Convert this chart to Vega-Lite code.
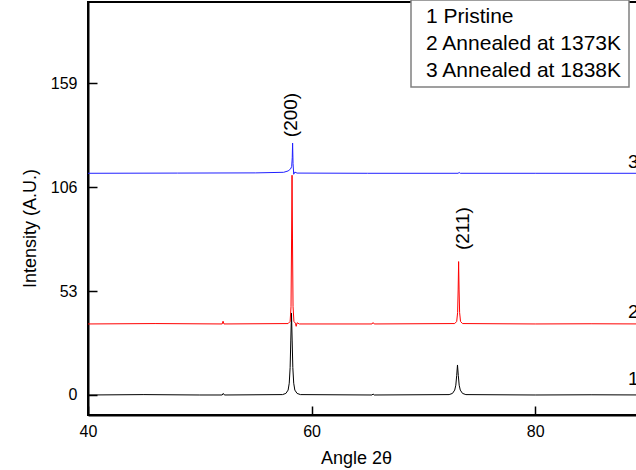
{
  "$schema": "https://vega.github.io/schema/vega-lite/v6.json",
  "autosize": "none",
  "padding": {"left": 88, "top": 2, "right": 0, "bottom": 55},
  "width": 559,
  "height": 413,
  "background": "white",
  "config": {
    "font": "Liberation Sans",
    "view": {"stroke": "black", "strokeWidth": 2},
    "axis": {
      "domainColor": "black", "domainWidth": 2, "tickColor": "black", "tickWidth": 1.5,
      "tickSize": -9, "grid": false, "labelColor": "black", "titleColor": "black",
      "labelFontSize": 16, "titleFontSize": 18, "titleFontWeight": "normal", "labelFont": "Liberation Sans", "titleFont": "Liberation Sans"
    },
    "legend": {
      "orient": "none", "legendX": 323, "legendY": -2, "strokeColor": "#808080", "strokeWidth": 1.5,
      "fillColor": "white", "padding": 6, "labelFontSize": 21, "labelFont": "Liberation Sans", "labelColor": "black",
      "symbolOpacity": 0, "symbolSize": 1, "symbolStrokeWidth": 0, "labelOffset": -12, "rowPadding": 5, "title": null, "labelLimit": 400
    }
  },
  "datasets": {
    "xrd": [
      {"s": "1 Pristine", "x": 40, "y": 0},
      {"s": "1 Pristine", "x": 45, "y": 0.2},
      {"s": "1 Pristine", "x": 50, "y": 0},
      {"s": "1 Pristine", "x": 52.0, "y": 0},
      {"s": "1 Pristine", "x": 52.1, "y": 0.8},
      {"s": "1 Pristine", "x": 52.2, "y": 0},
      {"s": "1 Pristine", "x": 57.4, "y": 0.2},
      {"s": "1 Pristine", "x": 57.7, "y": 0.8},
      {"s": "1 Pristine", "x": 57.9, "y": 2.5},
      {"s": "1 Pristine", "x": 58.0, "y": 6},
      {"s": "1 Pristine", "x": 58.08, "y": 14},
      {"s": "1 Pristine", "x": 58.14, "y": 28},
      {"s": "1 Pristine", "x": 58.2, "y": 41.8},
      {"s": "1 Pristine", "x": 58.26, "y": 28},
      {"s": "1 Pristine", "x": 58.32, "y": 14},
      {"s": "1 Pristine", "x": 58.4, "y": 6},
      {"s": "1 Pristine", "x": 58.5, "y": 2.5},
      {"s": "1 Pristine", "x": 58.7, "y": 0.8},
      {"s": "1 Pristine", "x": 59.0, "y": 0.2},
      {"s": "1 Pristine", "x": 65.4, "y": 0},
      {"s": "1 Pristine", "x": 65.5, "y": 0.5},
      {"s": "1 Pristine", "x": 65.6, "y": 0},
      {"s": "1 Pristine", "x": 72.3, "y": 0.2},
      {"s": "1 Pristine", "x": 72.6, "y": 0.8},
      {"s": "1 Pristine", "x": 72.8, "y": 2.5},
      {"s": "1 Pristine", "x": 72.9, "y": 5},
      {"s": "1 Pristine", "x": 72.98, "y": 10},
      {"s": "1 Pristine", "x": 73.05, "y": 15.3},
      {"s": "1 Pristine", "x": 73.12, "y": 10},
      {"s": "1 Pristine", "x": 73.2, "y": 5},
      {"s": "1 Pristine", "x": 73.3, "y": 2.5},
      {"s": "1 Pristine", "x": 73.5, "y": 0.8},
      {"s": "1 Pristine", "x": 73.8, "y": 0.2},
      {"s": "1 Pristine", "x": 80, "y": 0},
      {"s": "1 Pristine", "x": 85, "y": 0.1},
      {"s": "1 Pristine", "x": 90, "y": 0},
      {"s": "2 Annealed at 1373K", "x": 40, "y": 36.2},
      {"s": "2 Annealed at 1373K", "x": 46, "y": 36.4},
      {"s": "2 Annealed at 1373K", "x": 52.0, "y": 36.2},
      {"s": "2 Annealed at 1373K", "x": 52.08, "y": 37.6},
      {"s": "2 Annealed at 1373K", "x": 52.16, "y": 36.2},
      {"s": "2 Annealed at 1373K", "x": 57.9, "y": 36.4},
      {"s": "2 Annealed at 1373K", "x": 58.08, "y": 37.5},
      {"s": "2 Annealed at 1373K", "x": 58.16, "y": 45},
      {"s": "2 Annealed at 1373K", "x": 58.21, "y": 80},
      {"s": "2 Annealed at 1373K", "x": 58.25, "y": 112},
      {"s": "2 Annealed at 1373K", "x": 58.29, "y": 80},
      {"s": "2 Annealed at 1373K", "x": 58.34, "y": 45},
      {"s": "2 Annealed at 1373K", "x": 58.42, "y": 37.5},
      {"s": "2 Annealed at 1373K", "x": 58.55, "y": 36.6},
      {"s": "2 Annealed at 1373K", "x": 58.62, "y": 35.0},
      {"s": "2 Annealed at 1373K", "x": 58.7, "y": 36.8},
      {"s": "2 Annealed at 1373K", "x": 58.9, "y": 36.2},
      {"s": "2 Annealed at 1373K", "x": 65.4, "y": 36.2},
      {"s": "2 Annealed at 1373K", "x": 65.5, "y": 36.9},
      {"s": "2 Annealed at 1373K", "x": 65.6, "y": 36.2},
      {"s": "2 Annealed at 1373K", "x": 72.8, "y": 36.4},
      {"s": "2 Annealed at 1373K", "x": 72.98, "y": 37.5},
      {"s": "2 Annealed at 1373K", "x": 73.06, "y": 42},
      {"s": "2 Annealed at 1373K", "x": 73.11, "y": 54},
      {"s": "2 Annealed at 1373K", "x": 73.15, "y": 68},
      {"s": "2 Annealed at 1373K", "x": 73.19, "y": 54},
      {"s": "2 Annealed at 1373K", "x": 73.24, "y": 42},
      {"s": "2 Annealed at 1373K", "x": 73.32, "y": 37.5},
      {"s": "2 Annealed at 1373K", "x": 73.5, "y": 36.4},
      {"s": "2 Annealed at 1373K", "x": 80, "y": 36.2},
      {"s": "2 Annealed at 1373K", "x": 85, "y": 36.3},
      {"s": "2 Annealed at 1373K", "x": 90, "y": 36.2},
      {"s": "3 Annealed at 1838K", "x": 40, "y": 113},
      {"s": "3 Annealed at 1838K", "x": 48, "y": 113.1},
      {"s": "3 Annealed at 1838K", "x": 55, "y": 113.2},
      {"s": "3 Annealed at 1838K", "x": 57.5, "y": 113.5},
      {"s": "3 Annealed at 1838K", "x": 57.9, "y": 114.2},
      {"s": "3 Annealed at 1838K", "x": 58.12, "y": 115.2},
      {"s": "3 Annealed at 1838K", "x": 58.22, "y": 116.5},
      {"s": "3 Annealed at 1838K", "x": 58.27, "y": 121},
      {"s": "3 Annealed at 1838K", "x": 58.3, "y": 128.4},
      {"s": "3 Annealed at 1838K", "x": 58.34, "y": 118},
      {"s": "3 Annealed at 1838K", "x": 58.4, "y": 112.5},
      {"s": "3 Annealed at 1838K", "x": 58.5, "y": 113.6},
      {"s": "3 Annealed at 1838K", "x": 58.7, "y": 113.1},
      {"s": "3 Annealed at 1838K", "x": 65, "y": 113},
      {"s": "3 Annealed at 1838K", "x": 73.1, "y": 113},
      {"s": "3 Annealed at 1838K", "x": 73.2, "y": 113.4},
      {"s": "3 Annealed at 1838K", "x": 73.3, "y": 113},
      {"s": "3 Annealed at 1838K", "x": 80, "y": 113},
      {"s": "3 Annealed at 1838K", "x": 90, "y": 113}
    ],
    "hkl": [
      {"t": "(200)", "x": 58.16, "y": 142.7},
      {"t": "(211)", "x": 73.5, "y": 84.8}
    ],
    "nums": [
      {"t": "1", "x": 88.3, "y": 8.2},
      {"t": "2", "x": 88.3, "y": 42.3},
      {"t": "3", "x": 88.3, "y": 118.8}
    ]
  },
  "layer": [
    {
      "data": {"name": "xrd"},
      "mark": {"type": "line", "strokeWidth": 1, "clip": true},
      "encoding": {
        "x": {"field": "x", "type": "quantitative", "scale": {"domain": [40, 90], "nice": false, "zero": false},
              "axis": {"values": [40, 60, 80], "title": "Angle 2θ", "labelPadding": 17, "titlePadding": 10, "labelFlush": false, "titleX": 268}},
        "y": {"field": "y", "type": "quantitative", "scale": {"domain": [-10.2, 200.3], "nice": false, "zero": false},
              "axis": {"values": [0, 53, 106, 159], "title": "Intensity (A.U.)", "labelPadding": 20, "titleX": -58, "titleY": 226, "titleAngle": 270, "titleBaseline": "middle", "labelFlush": false}},
        "color": {"field": "s", "type": "nominal", "scale": {"domain": ["1 Pristine", "2 Annealed at 1373K", "3 Annealed at 1838K"], "range": ["#000000", "#ff0000", "#2020ff"]}},
        "order": {"field": "x", "type": "quantitative"}
      }
    },
    {
      "data": {"name": "hkl"},
      "mark": {"type": "text", "angle": 270, "fontSize": 19, "font": "Liberation Sans", "color": "black", "align": "center", "baseline": "middle"},
      "encoding": {
        "x": {"field": "x", "type": "quantitative"},
        "y": {"field": "y", "type": "quantitative"},
        "text": {"field": "t"}
      }
    },
    {
      "data": {"name": "nums"},
      "mark": {"type": "text", "fontSize": 19, "font": "Liberation Sans", "color": "black", "align": "left", "baseline": "middle"},
      "encoding": {
        "x": {"field": "x", "type": "quantitative"},
        "y": {"field": "y", "type": "quantitative"},
        "text": {"field": "t"}
      }
    }
  ]
}
